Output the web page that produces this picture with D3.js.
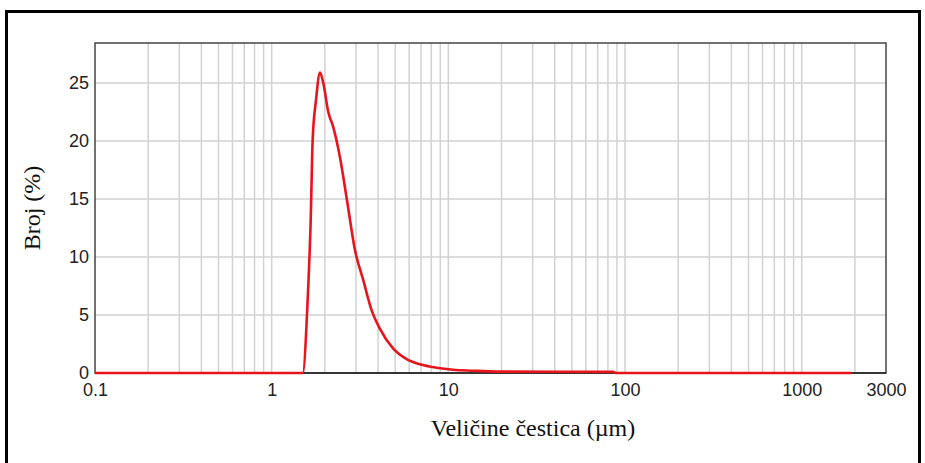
<!DOCTYPE html>
<html>
<head>
<meta charset="utf-8">
<script src="https://cdn.jsdelivr.net/npm/d3@7"></script>
<style>
  html, body { margin: 0; padding: 0; background: #fff; }
  svg { display: block; }
</style>
</head>
<body>
<svg id="chart" width="925" height="463"></svg>
<script>
// Data
const sizes = [0.1, 1.50, 1.595, 1.663, 1.706, 1.781, 1.877, 1.959, 2.091, 2.232, 2.435, 2.668, 2.961, 3.299, 3.681, 4.102, 4.877, 5.808, 6.908, 8.587, 10.66, 13.6, 19.6, 85.4, 88.8, 1917];
const counts = [0, 0, 6.0, 13.2, 20.1, 23.5, 25.9, 25.0, 22.5, 21.2, 18.6, 14.9, 10.6, 8.0, 5.4, 3.8, 2.1, 1.2, 0.75, 0.45, 0.28, 0.2, 0.12, 0.1, 0.0, 0.0];
const xTickValues = [0.1, 1, 10, 100, 1000, 3000];
const xTickLabels = ["0.1", "1", "10", "100", "1000", "3000"];
const yTickValues = [0, 5, 10, 15, 20, 25];
const xTitle = "Veličine čestica (µm)";
const yTitle = "Broj (%)";

const data = sizes.map((s, i) => ({ x: s, y: counts[i] }));

const svg = d3.select("#chart");
const pLeft = 95, pRight = 886, pTop = 43, pBottom = 373;

const x = d3.scaleLog().domain([0.1, 3000]).range([pLeft, pRight]);
const y = d3.scaleLinear().domain([0, 28.45]).range([pBottom, pTop]);

// outer frame
svg.append("rect")
  .attr("x", 6.5).attr("y", 11.5)
  .attr("width", 913).attr("height", 470)
  .attr("fill", "none").attr("stroke", "#000").attr("stroke-width", 3);

// vertical grid
const gridX = [];
[0.1, 1, 10, 100, 1000].forEach(d => {
  for (let m = 1; m <= 9; m++) {
    const v = d * m;
    if (v > 0.1 && v < 3000) gridX.push(v);
  }
});
svg.append("g").selectAll("line").data(gridX).join("line")
  .attr("x1", d => x(d)).attr("x2", d => x(d))
  .attr("y1", pTop).attr("y2", pBottom)
  .attr("stroke", "#d2d2d2").attr("stroke-width", 1.5);

// horizontal grid
svg.append("g").selectAll("line").data(yTickValues.filter(v => v > 0)).join("line")
  .attr("x1", pLeft).attr("x2", pRight)
  .attr("y1", d => y(d)).attr("y2", d => y(d))
  .attr("stroke", "#d2d2d2").attr("stroke-width", 1.5);

// plot border
svg.append("rect")
  .attr("x", pLeft).attr("y", pTop)
  .attr("width", pRight - pLeft).attr("height", pBottom - pTop)
  .attr("fill", "none").attr("stroke", "#444").attr("stroke-width", 1.5);

// bottom axis line
svg.append("line")
  .attr("x1", pLeft).attr("x2", pRight)
  .attr("y1", pBottom).attr("y2", pBottom)
  .attr("stroke", "#222").attr("stroke-width", 1.5);

// axes
const xAxis = d3.axisBottom(x)
  .tickValues(xTickValues)
  .tickFormat((d, i) => xTickLabels[i])
  .tickSize(0).tickPadding(10);
const gx = svg.append("g").attr("transform", `translate(0,${pBottom})`).call(xAxis);
gx.select(".domain").remove();
gx.selectAll("text")
  .attr("font-family", "Liberation Sans, Arial, sans-serif")
  .attr("font-size", 18).attr("fill", "#222");

const yAxis = d3.axisLeft(y).tickValues(yTickValues).tickSize(0).tickPadding(6);
const gy = svg.append("g").attr("transform", `translate(${pLeft},0)`).call(yAxis);
gy.select(".domain").remove();
gy.selectAll("text")
  .attr("font-family", "Liberation Sans, Arial, sans-serif")
  .attr("font-size", 18).attr("fill", "#222").attr("dy", "0.3em");

// curve
const line = d3.line()
  .x(d => x(d.x)).y(d => y(d.y))
  .curve(d3.curveMonotoneX);
svg.append("path")
  .datum(data)
  .attr("d", line)
  .attr("fill", "none")
  .attr("stroke", "#e8141c")
  .attr("stroke-width", 2.6)
  .attr("stroke-linejoin", "round");

// titles
svg.append("text")
  .attr("x", 533).attr("y", 436)
  .attr("text-anchor", "middle")
  .attr("font-family", "Liberation Serif, Times New Roman, serif")
  .attr("font-size", 24).attr("fill", "#111")
  .text(xTitle);

svg.append("text")
  .attr("transform", "translate(40,208) rotate(-90)")
  .attr("text-anchor", "middle")
  .attr("font-family", "Liberation Serif, Times New Roman, serif")
  .attr("font-size", 24).attr("fill", "#111")
  .text(yTitle);
</script>
</body>
</html>
